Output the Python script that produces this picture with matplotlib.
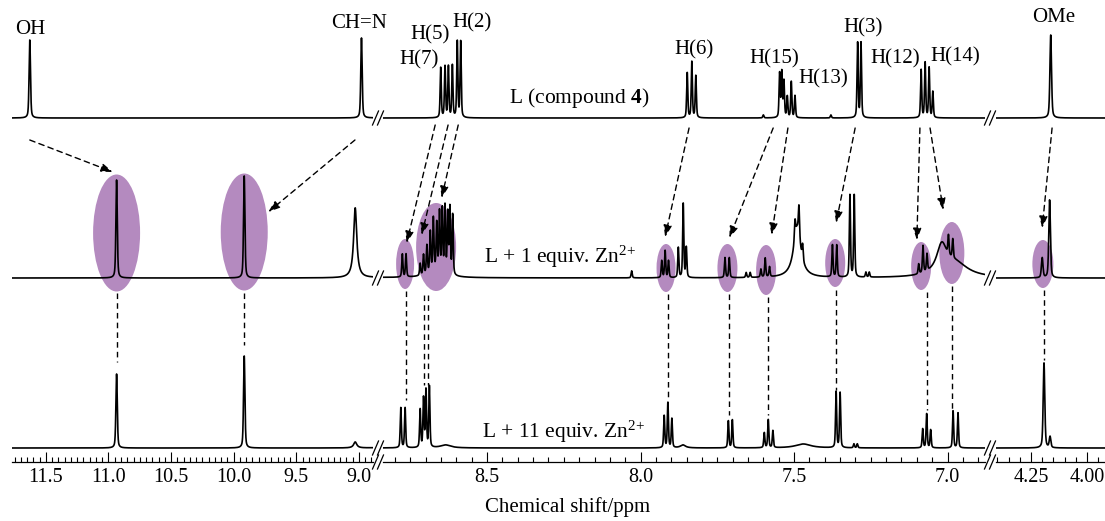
import numpy as np
import matplotlib
matplotlib.use('Agg')
import matplotlib.pyplot as plt
from matplotlib.patches import Ellipse
from matplotlib.lines import Line2D
from matplotlib.ticker import MultipleLocator, FormatStrFormatter

plt.rcParams['font.family'] = ['Liberation Serif', 'DejaVu Serif']
plt.rcParams['mathtext.fontset'] = 'custom'
plt.rcParams['mathtext.rm'] = 'Liberation Serif'
plt.rcParams['mathtext.bf'] = 'Liberation Serif:bold'
plt.rcParams['mathtext.it'] = 'Liberation Serif:italic'

# --- spectra: sharp lines (ppm, intensity) and broad features (ppm, intensity, half width)
# free ligand L
top_ppm = [11.628, 8.98,
           8.651, 8.637, 8.626, 8.613, 8.597, 8.586,
           7.848, 7.833, 7.820,
           7.600,
           7.547, 7.540, 7.533, 7.522, 7.509, 7.497,
           7.380,
           7.293, 7.282,
           7.086, 7.073, 7.060, 7.048,
           4.162]
top_int = [78, 80,
           50, 51, 51, 52, 76, 76,
           45, 56, 42,
           3,
           44, 45, 36, 21, 36, 22,
           3,
           75, 75,
           48, 55, 50, 26,
           83]
top_broad_ppm = []
top_broad_int = []
top_broad_hw = []

# L + 1 equiv. Zn2+
mid_ppm = [10.935, 9.916,
           8.776, 8.764,
           8.718, 8.707, 8.696, 8.685, 8.675, 8.664, 8.655, 8.646, 8.637, 8.628, 8.621, 8.612,
           8.029,
           7.931, 7.920, 7.909,
           7.877, 7.861, 7.851,
           7.725, 7.711,
           7.656, 7.643,
           7.608, 7.594, 7.580,
           7.497, 7.484, 7.472,
           7.375, 7.361,
           7.318, 7.304,
           7.266, 7.255,
           7.094, 7.080, 7.067,
           6.997, 6.983,
           4.200, 4.167]
mid_int = [98, 102,
           23, 23,
           12, 20, 28, 40, 52, 46, 58, 62, 66, 60, 66, 60,
           7,
           17, 27, 17,
           30, 74, 30,
           20, 20,
           5, 5,
           8, 19, 10,
           18, 30, 15,
           32, 32,
           82, 82,
           5, 5,
           10, 27, 17,
           19, 19,
           20, 78]
mid_broad_ppm = [9.03, 8.665, 7.490, 7.019, 6.975]
mid_broad_int = [70, 8, 50, 28, 14]
mid_broad_hw = [0.015, 0.03, 0.014, 0.02, 0.05]

# L + 11 equiv. Zn2+
bot_ppm = [10.935, 9.916,
           8.781, 8.767,
           8.718, 8.707, 8.699, 8.688,
           7.923, 7.911, 7.898,
           7.714, 7.701,
           7.597, 7.584, 7.569,
           7.363, 7.350,
           7.305, 7.294,
           7.081, 7.068, 7.055,
           6.982, 6.966,
           4.192, 4.165]
bot_int = [74, 92,
           40, 40,
           38, 49, 57, 61,
           32, 45, 29,
           27, 28,
           15, 28, 17,
           56, 55,
           4, 4,
           19, 34, 18,
           37, 35,
           85, 11]
bot_broad_ppm = [9.03, 8.635, 7.862, 7.470]
bot_broad_int = [6, 3, 3, 4]
bot_broad_hw = [0.015, 0.02, 0.01, 0.03]

trace_labels = [r'L (compound $\mathbf{4}$)', r'L + 1 equiv. Zn$^{2\!+}$',
                r'L + 11 equiv. Zn$^{2\!+}$']

peak_names = ['OH', 'CH=N', 'H(7)', 'H(5)', 'H(2)', 'H(6)', 'H(15)', 'H(13)',
              'H(3)', 'H(12)', 'H(14)', 'OMe']

# highlighted signals in the 1 equiv. spectrum: (segment, ppm)
hl_seg = [0, 0, 1, 1, 1, 1, 1, 1, 1, 1, 2]
hl_ppm = [10.935, 9.916, 8.767, 8.666, 7.917, 7.717, 7.591, 7.366, 7.086, 6.986, 4.197]

# shift arrows L -> L+1 equiv: (segment, ppm start, ppm end)
arr_seg = [0, 0, 1, 1, 1, 1, 1, 1, 1, 1, 1, 2]
arr_from = [11.628, 9.032, 8.669, 8.627, 8.594, 7.842, 7.568, 7.520, 7.301, 7.090, 7.057, 4.156]
arr_to = [10.965, 9.724, 8.762, 8.713, 8.648, 7.920, 7.711, 7.573, 7.363, 7.100, 7.014, 4.200]

# vertical guides L+1 -> L+11 equiv: (segment, ppm)
vl_seg = [0, 0, 1, 1, 1, 1, 1, 1, 1, 1, 1, 2]
vl_ppm = [10.935, 9.916, 8.765, 8.707, 8.691, 7.911, 7.711, 7.584, 7.363, 7.068, 6.986, 4.192]

# --- layout (pixels)
W, H = 1105, 521
AXIS_Y = 462
seg_px = [(12, 373), (383, 985), (996, 1105)]
seg_lim = [(11.77, 8.888), (8.839, 6.878), (4.406, 3.92)]
seg_hw = [0.0065, 0.0022, 0.0042]
base_y = [118, 278, 448]          # baseline of each trace (px from top)

PURPLE = '#b48abf'


def line(x, p, h, w, eta=0.45):
    # pseudo-Voigt line with half width w
    lor = 1 / (1 + ((x - p) / w) ** 2)
    gau = np.exp(-np.log(2) * ((x - p) / w) ** 2)
    return h * (eta * lor + (1 - eta) * gau)


def spectrum(x, ppm, inten, bppm, bint, bhw, hw):
    y = np.zeros_like(x)
    for p, h in zip(ppm, inten):
        y += line(x, p, h, hw)
    for p, h, w in zip(bppm, bint, bhw):
        y += h / (1 + ((x - p) / w) ** 2)
    return y


traces = [(top_ppm, top_int, top_broad_ppm, top_broad_int, top_broad_hw),
          (mid_ppm, mid_int, mid_broad_ppm, mid_broad_int, mid_broad_hw),
          (bot_ppm, bot_int, bot_broad_ppm, bot_broad_int, bot_broad_hw)]

fig = plt.figure(figsize=(W / 100, H / 100), dpi=100)
axes = []
for i, ((x0, x1), (lo, hi)) in enumerate(zip(seg_px, seg_lim)):
    ax = fig.add_axes([x0 / W, (H - AXIS_Y) / H, (x1 - x0) / W, AXIS_Y / H])
    ax.set_xlim(lo, hi)
    ax.set_ylim(0, AXIS_Y)
    ax.patch.set_alpha(0)
    for s in ['top', 'left', 'right']:
        ax.spines[s].set_visible(False)
    ax.spines['bottom'].set_linewidth(0.9)
    ax.set_yticks([])
    if i == 2:
        ax.xaxis.set_major_locator(MultipleLocator(0.25))
        ax.xaxis.set_major_formatter(FormatStrFormatter('%.2f'))
    else:
        ax.xaxis.set_major_locator(MultipleLocator(0.5))
        ax.xaxis.set_major_formatter(FormatStrFormatter('%.1f'))
    ax.xaxis.set_minor_locator(MultipleLocator(0.05))
    ax.tick_params(axis='x', which='major', direction='in', length=7, width=0.8,
                   labelsize=14.5, pad=4)
    ax.tick_params(axis='x', which='minor', direction='in', length=3.5, width=0.8)

    x = np.linspace(lo, hi, 9000)
    for (ppm, inten, bppm, bint, bhw), by in zip(traces, base_y):
        y = spectrum(x, ppm, inten, bppm, bint, bhw, seg_hw[i])
        ax.plot(x, (AXIS_Y - by) + y, color='black', lw=1.2, zorder=3)
    axes.append(ax)

ppx = [(x1 - x0) / (lo - hi) for (x0, x1), (lo, hi) in zip(seg_px, seg_lim)]

# highlight ellipses (y centre, width, height in px)
ell_y = [233, 232, 264, 247, 268, 268, 270, 263, 266, 253, 264]
ell_w = [47, 47, 18, 40, 19, 20, 20, 20, 20, 25, 21]
ell_h = [117, 117, 50, 88, 48, 48, 50, 48, 48, 62, 48]
for s, p, yc, w, h in zip(hl_seg, hl_ppm, ell_y, ell_w, ell_h):
    axes[s].add_patch(Ellipse((p, AXIS_Y - yc), w / ppx[s], h, facecolor=PURPLE,
                              edgecolor='none', zorder=1))

# arrows
arr_y0 = [140, 140, 125, 125, 125, 128, 128, 128, 128, 128, 128, 128]
arr_y1 = [172, 212, 243, 235, 198, 237, 238, 235, 223, 240, 210, 228]
for s, p0, p1, y0, y1 in zip(arr_seg, arr_from, arr_to, arr_y0, arr_y1):
    axes[s].annotate('', xy=(p1, AXIS_Y - y1), xytext=(p0, AXIS_Y - y0),
                     arrowprops=dict(arrowstyle='-|>,head_length=0.7,head_width=0.25',
                                     color='black', lw=1.0, linestyle=(0, (4, 3)),
                                     shrinkA=0, shrinkB=0), zorder=4)

# vertical dashed guides
vl_y0 = [293, 293, 291, 295, 295, 294, 294, 297, 290, 292, 286, 290]
vl_y1 = [362, 345, 400, 385, 385, 400, 415, 415, 390, 410, 410, 360]
for s, p, y0, y1 in zip(vl_seg, vl_ppm, vl_y0, vl_y1):
    axes[s].plot([p, p], [AXIS_Y - y0, AXIS_Y - y1], color='black', lw=1.0,
                 linestyle=(0, (4, 3)), zorder=2)


def ftext(x, y, s, size=15, **kw):
    fig.text(x / W, 1 - y / H, s, ha='center', va='center', fontsize=size, **kw)


# peak assignments on the free ligand spectrum
name_xy = [(30, 29), (359, 24), (419, 60), (430, 35), (472, 23), (694, 50),
           (774, 59), (823, 79), (863, 28), (895, 59), (955, 57), (1054, 18)]
for n, (x, y) in zip(peak_names, name_xy):
    ftext(x, y, n)

for lab, (x, y) in zip(trace_labels, [(579, 98), (560, 257), (564, 432)]):
    ftext(x, y, lab, size=15.5)

ftext(568, 507, 'Chemical shift/ppm', size=15)

# axis breaks
for bx in [378, 990]:
    for by in base_y + [AXIS_Y]:
        for dx in (-2.5, 2.5):
            xc = bx + dx
            fig.add_artist(Line2D([(xc - 3) / W, (xc + 3) / W],
                                  [1 - (by + 7) / H, 1 - (by - 7) / H],
                                  color='black', lw=0.9))

fig.savefig('out.png', dpi=100)
